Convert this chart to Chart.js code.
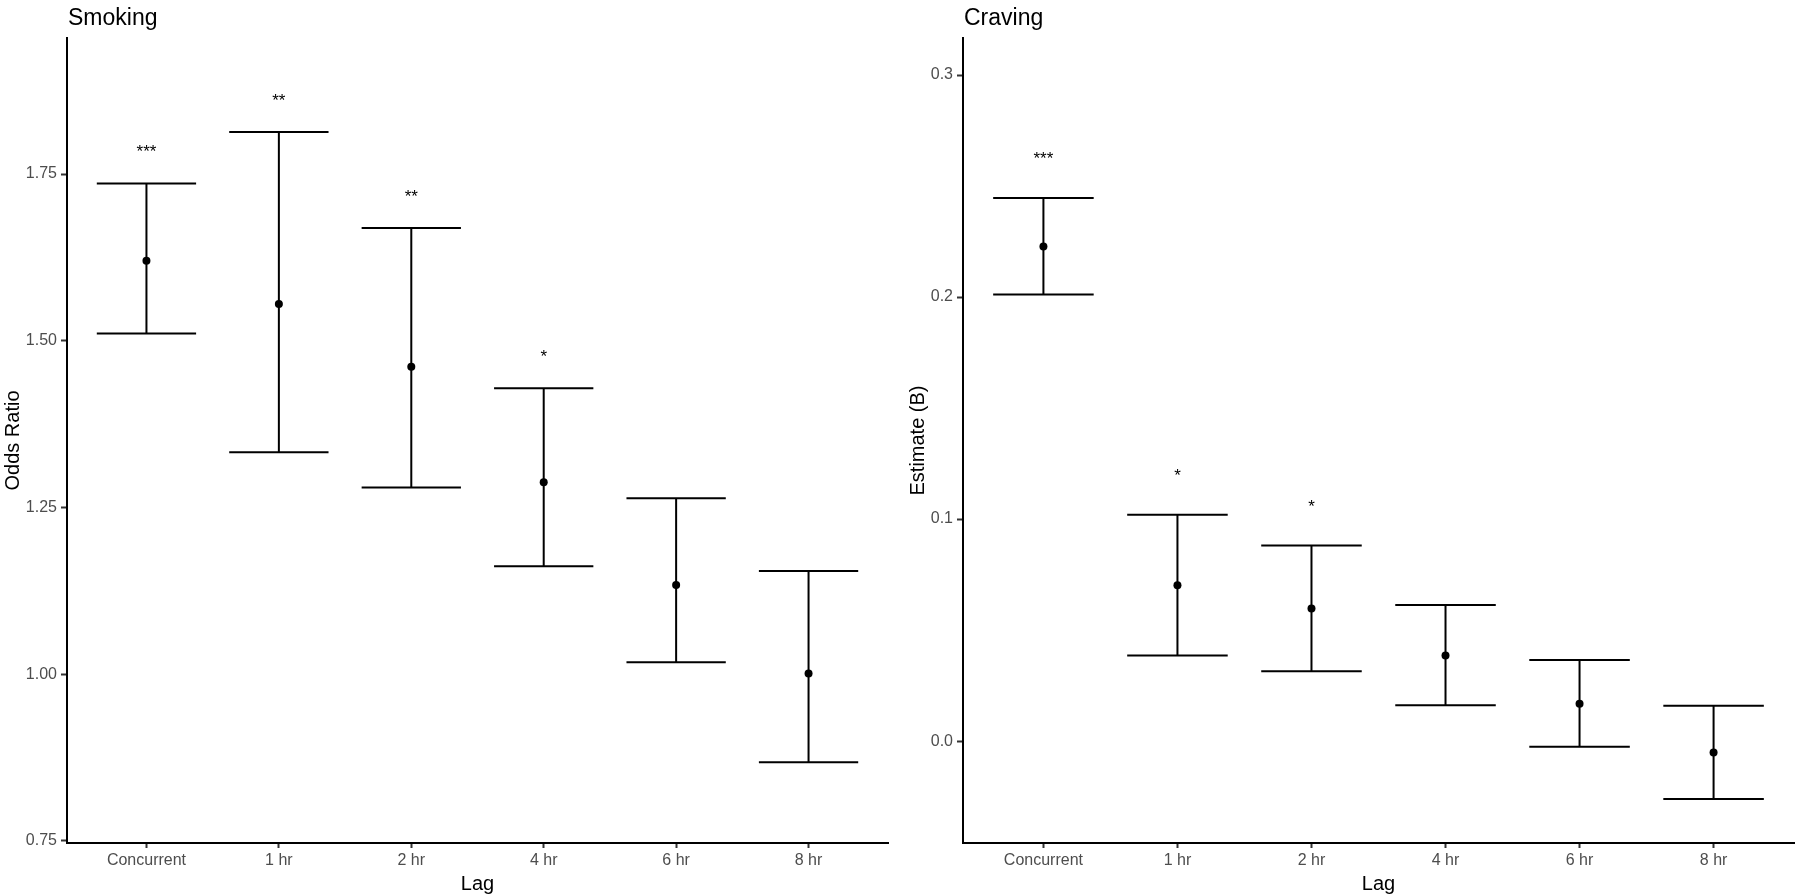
<!DOCTYPE html>
<html>
<head>
<meta charset="utf-8">
<title>Smoking and Craving by Lag</title>
<script src="https://cdn.jsdelivr.net/npm/chart.js@4.4.1/dist/chart.umd.min.js"></script>
<style>
    body { margin: 0; background: #ffffff; }
    #smokingChart { position: absolute; left: 0; top: 0; }
    #cravingChart { position: absolute; left: 900px; top: 0; }
</style>
</head>
<body>
<canvas id="smokingChart" width="900" height="896"></canvas>
<canvas id="cravingChart" width="900" height="896"></canvas>
<script>
// lag categories (x axis)
let lags = ["Concurrent", "1 hr", "2 hr", "4 hr", "6 hr", "8 hr"];

// Smoking: odds ratio with 95% CI
let smokingOR = [1.620, 1.555, 1.461, 1.288, 1.134, 1.001];
let smokingLower = [1.511, 1.333, 1.280, 1.162, 1.018, 0.868];
let smokingUpper = [1.736, 1.813, 1.669, 1.429, 1.264, 1.155];
let smokingStars = ["***", "**", "**", "*", "", ""];
let smokingTicks = [0.75, 1.00, 1.25, 1.50, 1.75];

// Craving: estimate (B) with 95% CI
let cravingB = [0.2228, 0.0702, 0.0597, 0.0386, 0.0168, -0.0051];
let cravingLower = [0.2012, 0.0386, 0.0315, 0.0161, -0.0026, -0.0261];
let cravingUpper = [0.2446, 0.1020, 0.0881, 0.0613, 0.0365, 0.0159];
let cravingStars = ["***", "*", "*", "", "", ""];
let cravingTicks = [0.0, 0.1, 0.2, 0.3];

const FONT = "'Liberation Sans', Arial, sans-serif";

function createChart(id, cfg) {
    let ctx = document.getElementById(id).getContext('2d');

    // error bars, significance stars and the panel title
    let errorBars = {
        id: 'errorBars_' + id,
        beforeDatasetsDraw(chart) {
            let x = chart.scales.x, y = chart.scales.y, c = chart.ctx;
            c.save();
            c.strokeStyle = '#000';
            c.lineWidth = 2;
            c.fillStyle = '#000';
            c.font = '17px ' + FONT;
            c.textAlign = 'center';
            c.textBaseline = 'alphabetic';
            cfg.lower.forEach((lo, i) => {
                let px = x.getPixelForValue(i + 1);
                let l = x.getPixelForValue(i + 1 - 0.375);
                let r = x.getPixelForValue(i + 1 + 0.375);
                let yl = y.getPixelForValue(lo);
                let yh = y.getPixelForValue(cfg.upper[i]);
                c.beginPath();
                c.moveTo(px, yh); c.lineTo(px, yl);
                c.moveTo(l, yh); c.lineTo(r, yh);
                c.moveTo(l, yl); c.lineTo(r, yl);
                c.stroke();
                if (cfg.stars[i]) {
                    c.fillText(cfg.stars[i], px, yh - cfg.starGap);
                }
            });
            c.restore();
        },
        afterDraw(chart) {
            let c = chart.ctx;
            c.save();
            c.fillStyle = '#000';
            c.font = '23px ' + FONT;
            c.textAlign = 'left';
            c.textBaseline = 'alphabetic';
            c.fillText(cfg.title, chart.chartArea.left + 1, 25);
            c.restore();
        }
    };

    return new Chart(ctx, {
        type: 'scatter',
        data: {
            datasets: [{
                data: cfg.values.map((v, i) => ({ x: i + 1, y: v })),
                pointRadius: 4,
                pointHoverRadius: 4,
                backgroundColor: '#000',
                borderWidth: 0
            }]
        },
        options: {
            responsive: false,
            animation: false,
            events: [],
            layout: { padding: { top: 38, right: cfg.padRight, left: 0, bottom: 0 } },
            plugins: {
                legend: { display: false },
                tooltip: { enabled: false },
                title: { display: false }
            },
            scales: {
                x: {
                    type: 'linear',
                    min: 0.4,
                    max: 6.6,
                    afterBuildTicks: (s) => { s.ticks = lags.map((l, i) => ({ value: i + 1 })); },
                    afterFit: (s) => { s.height = 53; },
                    ticks: {
                        callback: (v) => lags[v - 1],
                        color: '#4d4d4d',
                        font: { family: FONT, size: 16 },
                        padding: 3,
                        maxRotation: 0,
                        autoSkip: false
                    },
                    grid: { drawOnChartArea: false, drawTicks: true, tickLength: 5, tickColor: '#333', tickWidth: 2 },
                    border: { display: true, color: '#000', width: 2 },
                    title: {
                        display: true,
                        text: 'Lag',
                        color: '#000',
                        font: { family: FONT, size: 20 },
                        padding: { top: 0, bottom: 0 }
                    }
                },
                y: {
                    min: cfg.yMin,
                    max: cfg.yMax,
                    afterBuildTicks: (s) => { s.ticks = cfg.ticks.map(v => ({ value: v })); },
                    afterFit: (s) => { s.width = cfg.axisWidth; },
                    ticks: {
                        callback: (v) => v.toFixed(cfg.decimals),
                        color: '#4d4d4d',
                        font: { family: FONT, size: 16 },
                        padding: 4
                    },
                    grid: { drawOnChartArea: false, drawTicks: true, tickLength: 6, tickColor: '#333', tickWidth: 2 },
                    border: { display: true, color: '#000', width: 2 },
                    title: {
                        display: true,
                        text: cfg.yTitle,
                        color: '#000',
                        font: { family: FONT, size: 20 },
                        padding: { top: cfg.titlePad, bottom: 0 }
                    }
                }
            }
        },
        plugins: [errorBars]
    });
}

createChart("smokingChart", {
    title: "Smoking",
    yTitle: "Odds Ratio",
    values: smokingOR,
    lower: smokingLower,
    upper: smokingUpper,
    stars: smokingStars,
    ticks: smokingTicks,
    decimals: 2,
    yMin: 0.747,
    yMax: 1.954,
    axisWidth: 67,
    padRight: 12,
    titlePad: 1,
    starGap: 26
});

createChart("cravingChart", {
    title: "Craving",
    yTitle: "Estimate (B)",
    values: cravingB,
    lower: cravingLower,
    upper: cravingUpper,
    stars: cravingStars,
    ticks: cravingTicks,
    decimals: 1,
    yMin: -0.0459,
    yMax: 0.3167,
    axisWidth: 63,
    padRight: 6,
    titlePad: 6,
    starGap: 34
});
</script>
</body>
</html>
